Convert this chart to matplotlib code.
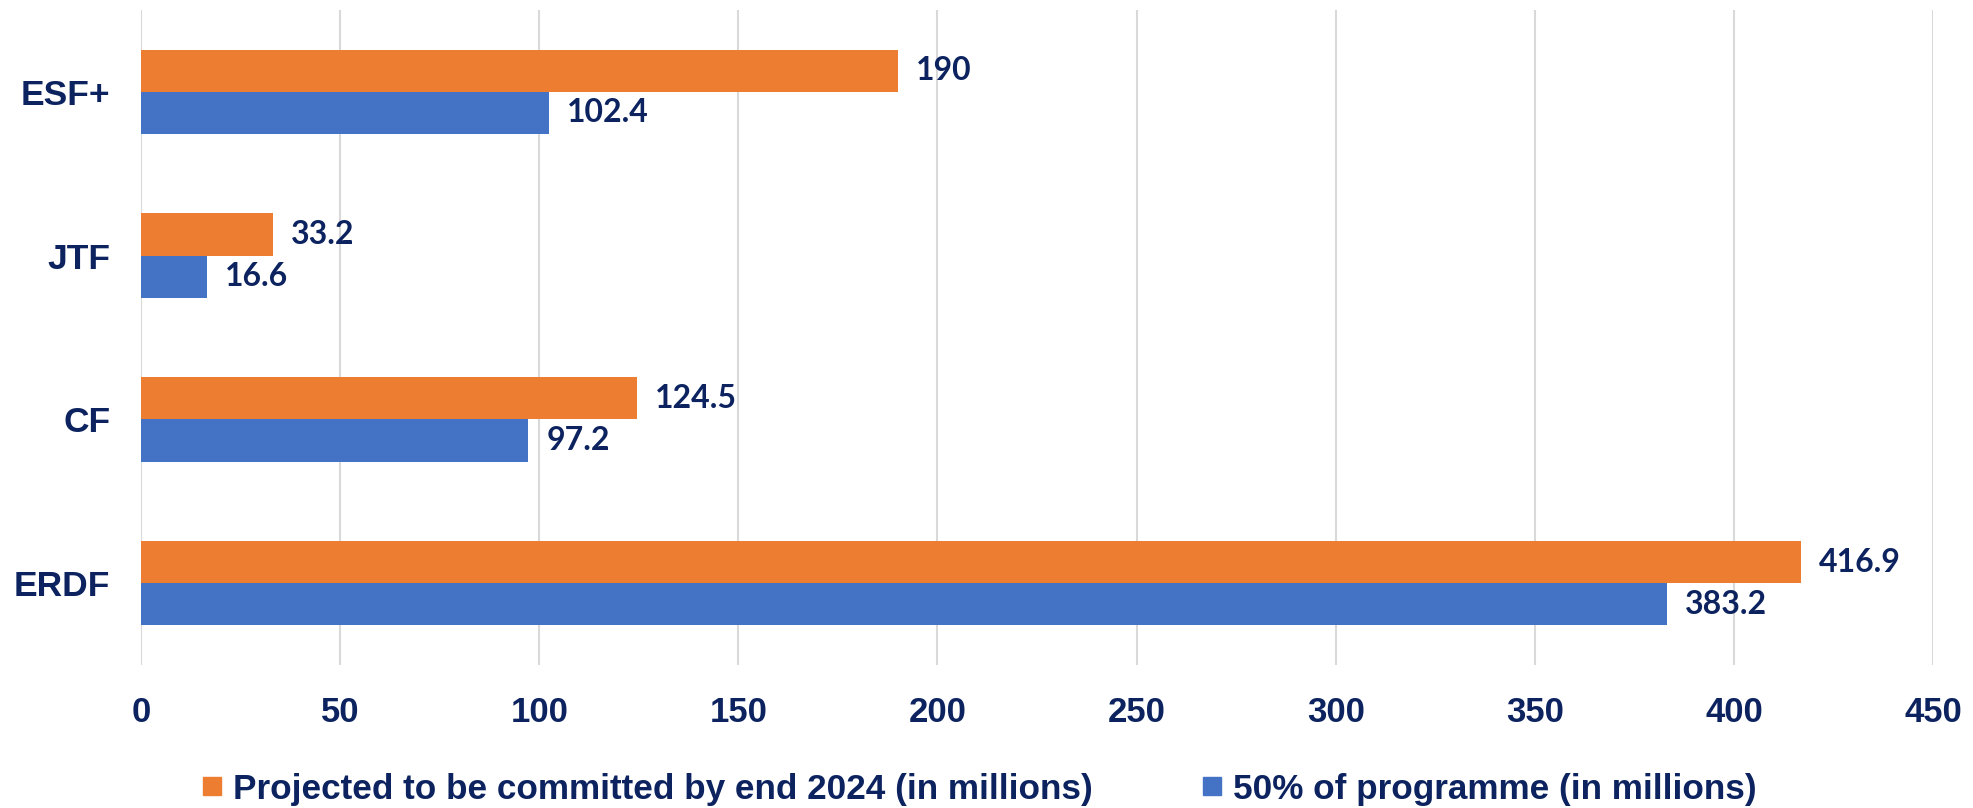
import numpy as np
import matplotlib.pyplot as plt
from matplotlib.lines import Line2D

# Daten
funds = ["ESF+", "JTF", "CF", "ERDF"]
projected = [190, 33.2, 124.5, 416.9]
half_programme = [102.4, 16.6, 97.2, 383.2]
x_ticks = [0, 50, 100, 150, 200, 250, 300, 350, 400, 450]
label_projected = "Projected to be committed by end 2024 (in millions)"
label_half = "50% of programme (in millions)"

orange = "#ED7D31"
blue = "#4472C4"
navy = "#0C2360"
axis_font = "Liberation Sans"
value_font = "Lato"

fig = plt.figure(figsize=(19.74, 8.08), dpi=100)
ax = fig.add_axes([141 / 1974, 1 - 665 / 808, (1933 - 141) / 1974, (665 - 10) / 808])

n = len(funds)
ypos = np.arange(n)[::-1]
h = 0.258

bars_o = ax.barh(ypos + h / 2, projected, height=h, color=orange, zorder=3)
bars_b = ax.barh(ypos - h / 2, half_programme, height=h, color=blue, zorder=3)

# Datenbeschriftungen
for bars, vals in [(bars_o, projected), (bars_b, half_programme)]:
    for b, v in zip(bars, vals):
        txt = f"{v:g}"
        ax.annotate(txt, (b.get_width(), b.get_y() + b.get_height() / 2),
                    xytext=(13, 0), textcoords="offset points",
                    ha="left", va="center", fontsize=23, fontweight="bold",
                    color=navy, family=value_font)

# Achsen
ax.set_xlim(0, 450)
ax.set_ylim(-0.5, n - 0.5)
ax.set_xticks(x_ticks)
ax.set_yticks(ypos)
ax.set_yticklabels(funds)
ax.tick_params(axis="both", length=0, labelsize=25, labelcolor=navy)
ax.tick_params(axis="x", pad=22)
ax.tick_params(axis="y", pad=22, labelsize=25.5)
for lab in ax.get_xticklabels() + ax.get_yticklabels():
    lab.set_fontweight("bold")
    lab.set_family(axis_font)

ax.grid(axis="x", color="#D9D9D9", linewidth=1.5, zorder=0)
for s in ax.spines.values():
    s.set_visible(False)

# Legende
handles = [
    Line2D([0], [0], marker="s", linestyle="none", markersize=13,
           markerfacecolor=orange, markeredgecolor=orange, label=label_projected),
    Line2D([0], [0], marker="s", linestyle="none", markersize=13,
           markerfacecolor=blue, markeredgecolor=blue, label=label_half),
]
leg = fig.legend(handles=handles, loc="center", bbox_to_anchor=(0.496, 1 - 789 / 808),
                 ncol=2, frameon=False, handlelength=0.6, handletextpad=0.3,
                 columnspacing=3.1, prop={"family": axis_font, "weight": "bold", "size": 25.3})
for t in leg.get_texts():
    t.set_color(navy)

fig.savefig("out.png", dpi=100)
